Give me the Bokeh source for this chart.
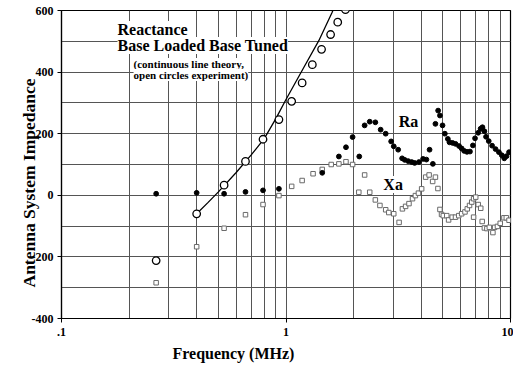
import math
from bokeh.plotting import figure
from bokeh.models import Range1d, FixedTicker, Label, Title
from bokeh.embed import file_html
from bokeh.resources import INLINE

# ---- data ----
theory_freq = [0.4, 0.45, 0.5, 0.6, 0.7, 0.8, 0.9, 1.0, 1.2, 1.4, 1.6, 1.7]
theory_x = [-60, -23, 11, 74, 131, 184, 248, 311, 415, 502, 592, 636]

exp_freq = [0.264, 0.40, 0.53, 0.66, 0.79, 0.93, 1.06, 1.18, 1.31, 1.44, 1.58, 1.70, 1.84]
exp_x = [-212, -60, 33, 110, 182, 246, 305, 365, 424, 474, 522, 562, 603]

ra_freq = [0.264, 0.40, 0.53, 0.66, 0.79, 0.93, 1.45, 1.72, 1.85, 1.98, 2.12, 2.24,
           2.36, 2.50, 2.64, 2.78, 2.94, 3.02, 3.16, 3.29, 3.38, 3.50, 3.63, 3.74,
           3.91, 4.08, 4.22, 4.36, 4.51, 4.63, 4.76, 4.85, 4.98, 5.10, 5.26, 5.35,
           5.52, 5.69, 5.90, 6.06, 6.22, 6.40, 6.60, 6.80, 6.95, 7.18, 7.36, 7.50,
           7.65, 7.78, 8.00, 8.28, 8.58, 8.88, 9.15, 9.38, 9.60, 9.85]
ra_val = [5, 8, 5, 11, 16, 21, 73, 126, 156, 189, 126, 227,
          239, 237, 213, 200, 175, 159, 148, 120, 115, 111, 108, 105,
          108, 118, 116, 148, 102, 232, 275, 259, 227, 200, 183, 172,
          170, 167, 160, 152, 144, 141, 142, 162, 185, 203, 216, 221,
          208, 190, 176, 161, 150, 140, 130, 120, 127, 140]

xa_freq = [0.264, 0.40, 0.53, 0.66, 0.79, 0.93, 1.06, 1.18, 1.32, 1.45, 1.59, 1.72,
           1.85, 1.98, 2.11, 2.24, 2.36, 2.50, 2.62, 2.78, 2.87, 3.02, 3.19, 3.30,
           3.41, 3.53, 3.66, 3.77, 3.89, 4.02, 4.19, 4.34, 4.50, 4.63, 4.75, 4.85,
           4.93, 5.02, 5.20, 5.30, 5.50, 5.69, 5.88, 6.06, 6.27, 6.42, 6.57, 6.72,
           6.85, 7.00, 6.85, 7.18, 7.37, 7.48, 7.65, 7.85, 8.05, 8.35, 8.50, 8.75,
           9.00, 9.35, 9.58, 9.85]
xa_val = [-284, -167, -107, -63, -30, -1, 29, 48, 70, 84, 100, 102,
          109, 100, 10, 66, 10, -15, -33, -47, -56, -60, -88, -44,
          -36, -27, -11, -1, 7, 21, 59, 66, 45, 59, 22, -46,
          -62, -66, -66, -80, -71, -71, -66, -60, -54, -44, -33, -22,
          -11, -6, -71, -30, -42, -85, -106, -108, -104, -121, -104, -101,
          -91, -73, -73, -81]

x_ticks = [0.1, 1, 10]
x_tick_labels = [".1", "1", "10"]
x_minor = [0.2, 0.3, 0.4, 0.5, 0.6, 0.7, 0.8, 0.9, 2, 3, 4, 5, 6, 7, 8, 9]
y_ticks = [-400, -200, 0, 200, 400, 600]
y_tick_labels = ["-400", "-200", "0", "200", "400", "600"]
y_minor = [-300, -100, 100, 300, 500]

FONT = "Liberation Serif"
GRID = "#555555"

p = figure(width=513, height=366, x_axis_type="log",
           x_range=Range1d(0.1, 10), y_range=Range1d(-400, 600),
           output_backend="svg", toolbar_location=None,
           min_border_left=61, min_border_right=3, min_border_top=10, min_border_bottom=48)
p.background_fill_color = "white"
p.border_fill_color = "white"
p.outline_line_color = "black"
p.outline_line_width = 1.2

xt = FixedTicker(ticks=x_ticks, minor_ticks=x_minor)
yt = FixedTicker(ticks=y_ticks, minor_ticks=y_minor)
p.xaxis.ticker = xt
p.yaxis.ticker = yt
p.xgrid.ticker = xt
p.ygrid.ticker = yt
for g in (p.xgrid, p.ygrid):
    g.grid_line_color = GRID
    g.grid_line_width = 1
    g.minor_grid_line_color = GRID
    g.minor_grid_line_width = 1

p.xaxis.major_label_overrides = {t: l for t, l in zip(x_ticks, x_tick_labels)}
p.yaxis.major_label_overrides = {t: l for t, l in zip(y_ticks, y_tick_labels)}
for ax in (p.xaxis, p.yaxis):
    ax.axis_line_color = "black"
    ax.axis_line_width = 1.2
    ax.major_tick_line_color = "black"
    ax.major_tick_out = 4
    ax.major_tick_in = 0
    ax.minor_tick_out = 0
    ax.minor_tick_in = 0
    ax.major_label_text_font = FONT
    ax.major_label_text_font_style = "bold"
    ax.major_label_text_font_size = "12px"
    ax.major_label_text_color = "black"
p.yaxis.major_label_standoff = 4
p.xaxis.major_label_standoff = 5

# theory line
p.line(theory_freq, theory_x, line_color="black", line_width=1.3)
# Xa squares
p.scatter(xa_freq, xa_val, marker="square", size=4.5, fill_color="white",
          line_color="#6a6a6a", line_width=1)
# Ra dots
p.scatter(ra_freq, ra_val, marker="circle", size=4.8, fill_color="black", line_color="black")
# experiment circles
p.scatter(exp_freq, exp_x, marker="circle", size=7.5, fill_color="white",
          line_color="black", line_width=1.3)

def lab(x, y, text, size, align="left", baseline="top"):
    p.add_layout(Label(x=x, y=y, text=text,
                       text_font=FONT, text_font_style="bold",
                       text_font_size=size, text_align=align, text_baseline=baseline,
                       text_color="black", background_fill_color="white"))

lab(0.1776, 566, "Reactance", "16px")
lab(0.1776, 514, "Base Loaded Base Tuned", "16px")
lab(0.2094, 446, "(continuous line theory,", "11px")
lab(0.2094, 410, "open circles experiment)", "11px")
lab(3.51, 239, "Ra", "16px", align="center", baseline="middle")
lab(3.0, 35, "Xa", "16px", align="center", baseline="middle")

# axis titles as side-panel titles
xtitle = Title(text="Frequency (MHz)", align="left", offset=111, standoff=9,
               text_font=FONT, text_font_style="bold", text_font_size="16px",
               text_color="black")
p.add_layout(xtitle, "below")
ytitle = Title(text="Antenna System Impedance", align="left", offset=31, standoff=-21,
               text_font=FONT, text_font_style="bold", text_font_size="17.5px",
               text_color="black")
p.add_layout(ytitle, "left")

open("out.html", "w").write(file_html(p, INLINE))
